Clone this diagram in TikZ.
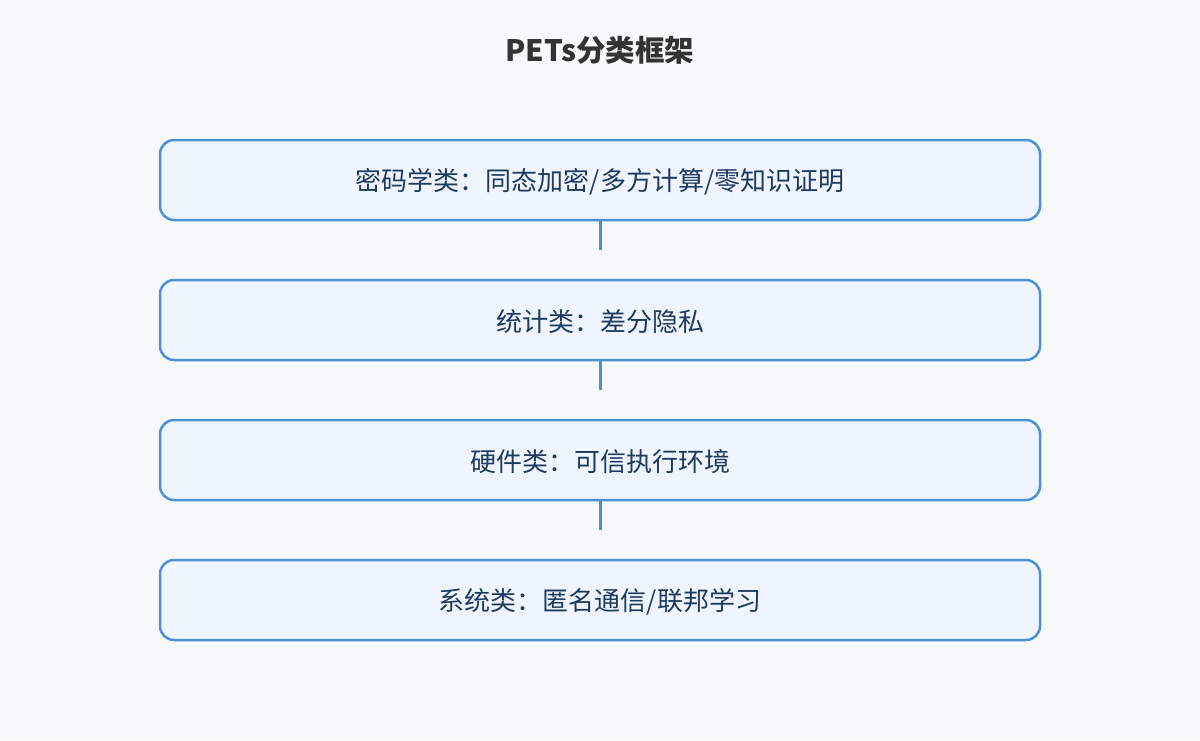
\documentclass[tikz,border=0pt]{standalone}
\usepackage{fontspec}
\setmainfont{Noto Sans CJK SC}
\definecolor{bg}{HTML}{F8F9FB}
\definecolor{boxfill}{HTML}{EEF5FE}
\definecolor{boxline}{HTML}{4A90D9}
\definecolor{txt}{HTML}{1E3A5F}
\definecolor{ttl}{HTML}{333333}
\begin{document}
\begin{tikzpicture}[x=1pt,y=-1pt,
  catbox/.style={draw=boxline, line width=2.5pt, fill=boxfill, rounded corners=14pt,
    minimum width=880pt, minimum height=80pt, inner sep=0pt},
  lbl/.style={text=txt, font=\fontsize{26}{28}\selectfont, inner sep=0pt},
  link/.style={draw=boxline, line width=3pt}]
\fill[bg] (0,0) rectangle (1200,740);
\useasboundingbox (0,0) rectangle (1200,740);
\node[font=\fontsize{29.5}{32}\selectfont\bfseries, text=ttl] (title) at (600,50) {PETs分类框架};
\node[catbox] (b1) at (600,180) {};
\node[catbox] (b2) at (600,320) {};
\node[catbox] (b3) at (600,460) {};
\node[catbox] (b4) at (600,600) {};
\node[lbl] (t1) at ([yshift=-2pt]b1.center) {密码学类：同态加密/多方计算/零知识证明};
\node[lbl] (t2) at ([yshift=-2pt]b2.center) {统计类：差分隐私};
\node[lbl] (t3) at ([yshift=-2pt]b3.center) {硬件类：可信执行环境};
\node[lbl] (t4) at ([yshift=-2pt]b4.center) {系统类：匿名通信/联邦学习};
\coordinate (e1) at (600,250);
\coordinate (e2) at (600,390);
\coordinate (e3) at (600,530);
\draw[link] (b1.south) -- (e1);
\draw[link] (b2.south) -- (e2);
\draw[link] (b3.south) -- (e3);
\end{tikzpicture}
\end{document}
